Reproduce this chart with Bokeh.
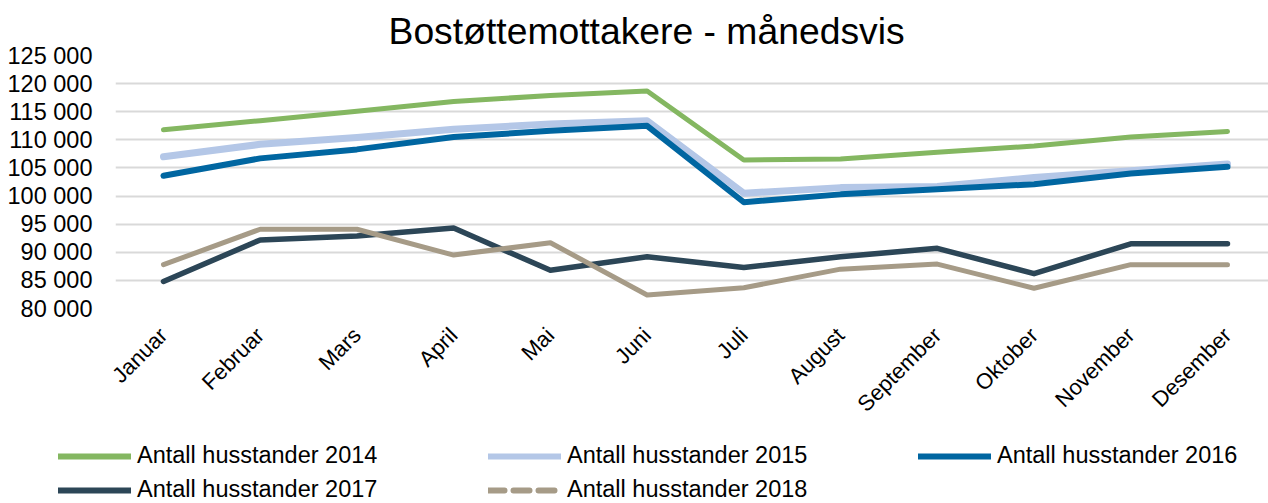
from math import pi
from bokeh.plotting import figure
from bokeh.models import (ColumnDataSource, FixedTicker, Legend, LegendItem, Range1d, Title)
from bokeh.embed import file_html
from bokeh.resources import INLINE

months = ["Januar", "Februar", "Mars", "April", "Mai", "Juni", "Juli",
          "August", "September", "Oktober", "November", "Desember"]

y2014 = [111800, 113400, 115100, 116800, 117900, 118700, 106400, 106600, 107800, 108900, 110500, 111500]
y2015 = [107000, 109200, 110400, 111900, 112800, 113400, 100500, 101500, 101700, 103300, 104500, 105700]
y2016 = [103600, 106700, 108300, 110500, 111600, 112500, 98900, 100300, 101200, 102100, 104000, 105200]
y2017 = [84800, 92200, 92900, 94300, 86800, 89200, 87300, 89200, 90700, 86200, 91500, 91500]
y2018 = [87800, 94100, 94100, 89500, 91700, 82400, 83700, 87000, 87900, 83600, 87800, 87800]

series_names = ["Antall husstander 2014", "Antall husstander 2015", "Antall husstander 2016",
                "Antall husstander 2017", "Antall husstander 2018"]

y_ticks = [80000, 85000, 90000, 95000, 100000, 105000, 110000, 115000, 120000, 125000]
y_tick_labels = ["80 000", "85 000", "90 000", "95 000", "100 000", "105 000",
                 "110 000", "115 000", "120 000", "125 000"]

FONT = "Liberation Sans"
x = list(range(len(months)))

p = figure(width=1268, height=430, output_backend="svg", toolbar_location=None,
           x_range=Range1d(-0.496, 11.424), y_range=Range1d(80000, 125000),
           min_border_left=115, min_border_right=0, min_border_top=55,
           min_border_bottom=122)
p.outline_line_color = None
p.background_fill_color = "white"
p.border_fill_color = "white"

t = Title(text="Bostøttemottakere - månedsvis", align="left", offset=273,
          text_font=FONT, text_font_size="37.3px", text_font_style="normal",
          text_color="#000000", standoff=8)
p.title = t

# axes
p.yaxis.ticker = FixedTicker(ticks=y_ticks)
p.yaxis.major_label_overrides = {tk: lb for tk, lb in zip(y_ticks, y_tick_labels)}
p.yaxis.axis_line_color = None
p.yaxis.major_tick_line_color = None
p.yaxis.minor_tick_line_color = None
p.yaxis.major_label_text_font = FONT
p.yaxis.major_label_text_font_size = "23.5px"
p.yaxis.major_label_text_color = "#000000"
p.yaxis.major_label_standoff = 17

p.xaxis.ticker = FixedTicker(ticks=x)
p.xaxis.major_label_overrides = {i: m for i, m in zip(x, months)}
p.xaxis.major_label_orientation = pi / 4
p.xaxis.axis_line_color = None
p.xaxis.major_tick_line_color = None
p.xaxis.minor_tick_line_color = None
p.xaxis.major_label_text_font = FONT
p.xaxis.major_label_text_font_size = "22px"
p.xaxis.major_label_text_color = "#000000"
p.xaxis.major_label_standoff = 17

p.xgrid.grid_line_color = None
p.ygrid.ticker = FixedTicker(ticks=y_ticks)
p.ygrid.grid_line_color = "#D9D9D9"
p.ygrid.grid_line_width = 2

colors = ["#84B761", "#B4C7E7", "#0066A1", "#2C4657", "#A69B87"]
widths = [5, 7, 6, 5.5, 5]
data = [y2014, y2015, y2016, y2017, y2018]

for ys, c, w in zip(data, colors, widths):
    src = ColumnDataSource(dict(x=x, y=ys))
    p.line("x", "y", source=src, line_color=c, line_width=w, line_join="round",
           line_cap="round")

# legend strip below the chart (separate root, no axes, frame covers the whole strip)
lg = figure(width=1268, height=73, output_backend="svg", toolbar_location=None,
            x_range=Range1d(0, 1), y_range=Range1d(0, 1),
            x_axis_location=None, y_axis_location=None,
            min_border_left=0, min_border_right=0, min_border_top=0, min_border_bottom=0)
lg.grid.visible = False
lg.outline_line_color = None
lg.background_fill_color = "white"
lg.border_fill_color = "white"

legend_dash = ["solid", "solid", "solid", "solid", "16 9"]
items = []
for name, c, d, ys in zip(series_names, colors, legend_dash, data):
    # swatch renderers: series data, far outside this strip's visible range
    src = ColumnDataSource(dict(x=x, y=ys))
    r = lg.line("x", "y", source=src, line_color=c, line_width=6, line_dash=d,
                line_cap="round")
    items.append(LegendItem(label=name, renderers=[r]))

legend = Legend(items=items, location=(58, 0), orientation="horizontal", ncols=3,
                glyph_width=73, glyph_height=24, label_height=24, label_width=344,
                label_standoff=6, spacing=7, padding=0, margin=0,
                label_text_font=FONT, label_text_font_size="23.5px",
                label_text_color="#000000", border_line_color=None,
                background_fill_alpha=0)
lg.add_layout(legend, "center")

open("out.html", "w").write(file_html([p, lg], INLINE))
